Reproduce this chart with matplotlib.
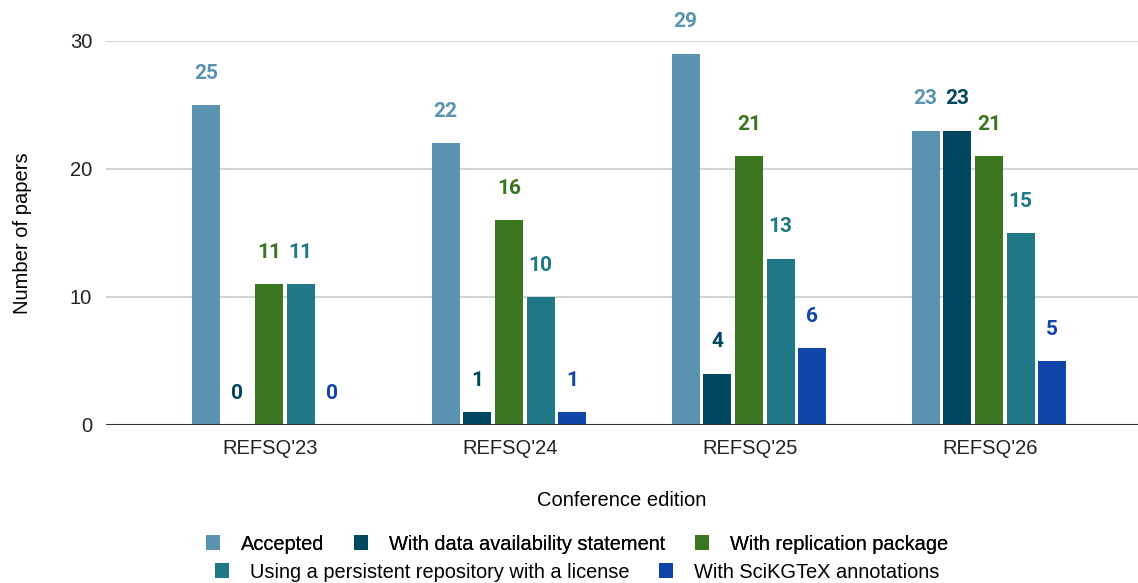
import matplotlib
matplotlib.use("Agg")
import matplotlib.pyplot as plt
from matplotlib.patches import Patch
import numpy as np

editions = ["REFSQ'23", "REFSQ'24", "REFSQ'25", "REFSQ'26"]
series_names = ["Accepted", "With data availability statement", "With replication package",
                "Using a persistent repository with a license", "With SciKGTeX annotations"]
accepted = [25, 22, 29, 23]
data_availability = [0, 1, 4, 23]
replication = [11, 16, 21, 21]
persistent_repo = [11, 10, 13, 15]
scikgtex = [0, 1, 6, 5]
colors = ["#5A93B0", "#01475F", "#3A761F", "#1F7885", "#1046AA"]

series = [accepted, data_availability, replication, persistent_repo, scikgtex]

fig = plt.figure(figsize=(11.38, 5.83), dpi=100)
ax = fig.add_axes([106/1138, 1-425/583, 1-106/1138, (425-41)/583])

x = np.arange(len(editions))
step = 0.1317
width = 0.117
for i, (vals, c) in enumerate(zip(series, colors)):
    pos = x + (i - 2) * step - 0.004
    ax.bar(pos, vals, width=width, color=c, zorder=3)
    for p, v in zip(pos, vals):
        ax.annotate(str(v), (p, v), xytext=(0, 23), textcoords="offset points",
                    ha="center", va="center", fontsize=15, fontweight="bold",
                    color=c, family="Roboto", annotation_clip=False)

ax.set_xlim(-0.683, 3.617)
ax.set_ylim(0, 30)
ax.set_yticks([0, 10, 20, 30])
ax.yaxis.grid(True, color="#cccccc", linewidth=1.2, zorder=0)
ax.axhline(0, color="#333333", linewidth=1.5, zorder=4)
for s in ax.spines.values():
    s.set_visible(False)
ax.tick_params(axis="y", length=0, pad=10, labelsize=14.5, labelcolor="#222222")
ax.tick_params(axis="x", length=0, pad=10, labelsize=14.5, labelcolor="#222222")
ax.set_xticks(x)
ax.set_xticklabels(editions)
for lab in ax.get_xticklabels() + ax.get_yticklabels():
    lab.set_family("Liberation Sans")
ax.set_ylabel("Number of papers", fontsize=14.5, family="Liberation Sans", labelpad=27)
ax.set_xlabel("Conference edition", fontsize=14.5, family="Liberation Sans", labelpad=24)

handles = [Patch(facecolor=c, label=n) for c, n in zip(colors, series_names)]
lkw = dict(frameon=False, prop={"family": "Liberation Sans", "size": 14.4},
           handlelength=0.7, handleheight=0.75, columnspacing=1.5, handletextpad=1.05)
leg1 = fig.legend(handles=handles[:3], loc="center", bbox_to_anchor=(577/1138, 1-544/583),
                  ncol=3, **lkw)
leg2 = fig.legend(handles=handles[3:], loc="center", bbox_to_anchor=(577/1138, 1-572/583),
                  ncol=2, **lkw)
fig.add_artist(leg1)

fig.savefig("out.png", dpi=100)
